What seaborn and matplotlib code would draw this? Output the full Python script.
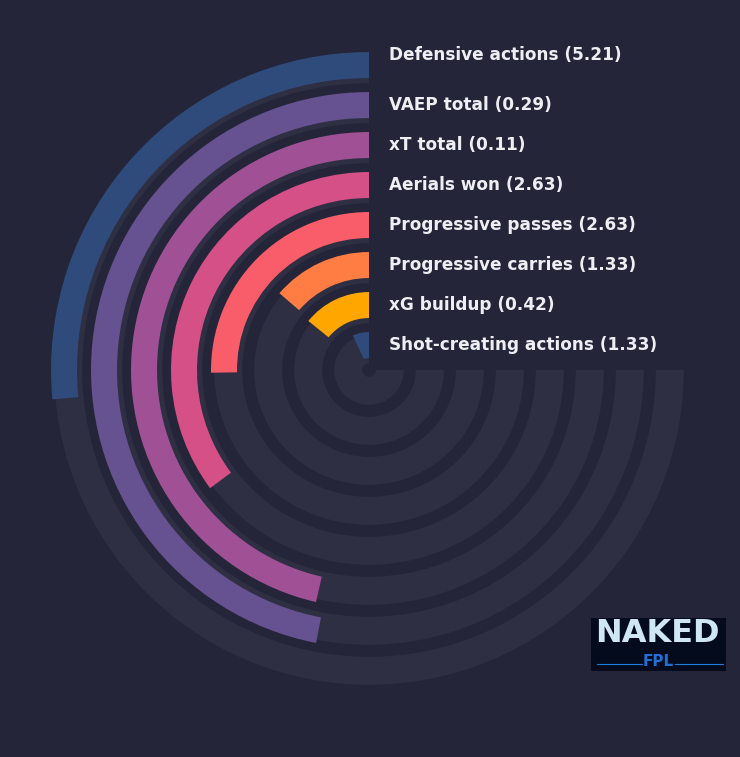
import matplotlib
matplotlib.use('Agg')
import matplotlib.pyplot as plt
import matplotlib.transforms as mtransforms
from matplotlib.patches import Rectangle
from matplotlib.lines import Line2D
import seaborn as sns
import numpy as np

# innermost ring first
metrics = ['Shot-creating actions', 'xG buildup', 'Progressive carries', 'Progressive passes',
           'Aerials won', 'xT total', 'VAEP total', 'Defensive actions']
values = [1.33, 0.42, 1.33, 2.63, 2.63, 0.11, 0.29, 5.21]
# percentile rank -> how far round the 270 degree track each bar goes
percentiles = [9.3, 18.9, 18.3, 33.7, 46.9, 61.9, 62.6, 35.3]
bar_colors = ['#2f4b7c', '#ffa600', '#ff7c43', '#f95d6a', '#d45087', '#a05195', '#665191', '#2f4b7c']

bg = '#242538'
track = '#2f2f43'

sns.set_theme(style='dark', rc={'figure.facecolor': bg, 'axes.facecolor': bg,
                                'savefig.facecolor': bg, 'patch.edgecolor': 'none'})
plt.rcParams['font.family'] = ['DejaVu Sans']
palette = sns.color_palette(bar_colors)

fig = plt.figure(figsize=(7.4, 7.57), dpi=100)
ax = fig.add_axes([0.0662, 0.0885, 0.8649, 0.8454], projection='polar')
ax.set_theta_zero_location('N')
ax.set_theta_direction(1)
ax.set_ylim(0, 8)

full = 1.5 * np.pi
pos = np.arange(len(metrics))

# grey tracks then the coloured bars on top
ax.barh(pos + 0.17, [full] * len(pos), left=0, height=0.7, align='edge', color=track,
        edgecolor='none', linewidth=0, zorder=1)
ax.barh(pos + 0.3, np.array(percentiles) / 100 * full, left=0, height=0.65, align='edge',
        color=palette, edgecolor='none', linewidth=0, zorder=2)

ax.grid(False)
ax.set_xticks([])
ax.set_yticks([])
ax.spines['polar'].set_visible(False)

# labels to the right of the bars' start
label_nudge = [0, 0, 0, 0, 0, 0, 0, 10]
for i, (name, val) in enumerate(zip(metrics, values)):
    trans = mtransforms.offset_copy(ax.transData, fig=fig, x=20, y=label_nudge[i], units='dots')
    ax.text(0, i + 0.625, f'{name} ({val:.2f})', transform=trans, ha='left', va='center',
            fontsize=12.2, fontweight='bold', color='#eeeef4', zorder=5)

# logo box
fig.patches.append(Rectangle((0.7986, 0.1136), 0.1824, 0.07, transform=fig.transFigure,
                             facecolor='#030b1c', edgecolor='none'))
fig.text(0.889, 0.1631, 'NAKED', ha='center', va='center', fontsize=23, fontweight='bold',
         color='#cfe6f5')
fig.text(0.889, 0.1268, 'FPL', ha='center', va='center', fontsize=11, fontweight='bold',
         color='#1f6fd6')
fig.lines.append(Line2D([0.807, 0.868], [0.1229, 0.1229], transform=fig.transFigure,
                        color='#1a7fe0', lw=0.8))
fig.lines.append(Line2D([0.912, 0.977], [0.1229, 0.1229], transform=fig.transFigure,
                        color='#1a7fe0', lw=0.8))

fig.savefig('out.png', dpi=100, facecolor=bg)
